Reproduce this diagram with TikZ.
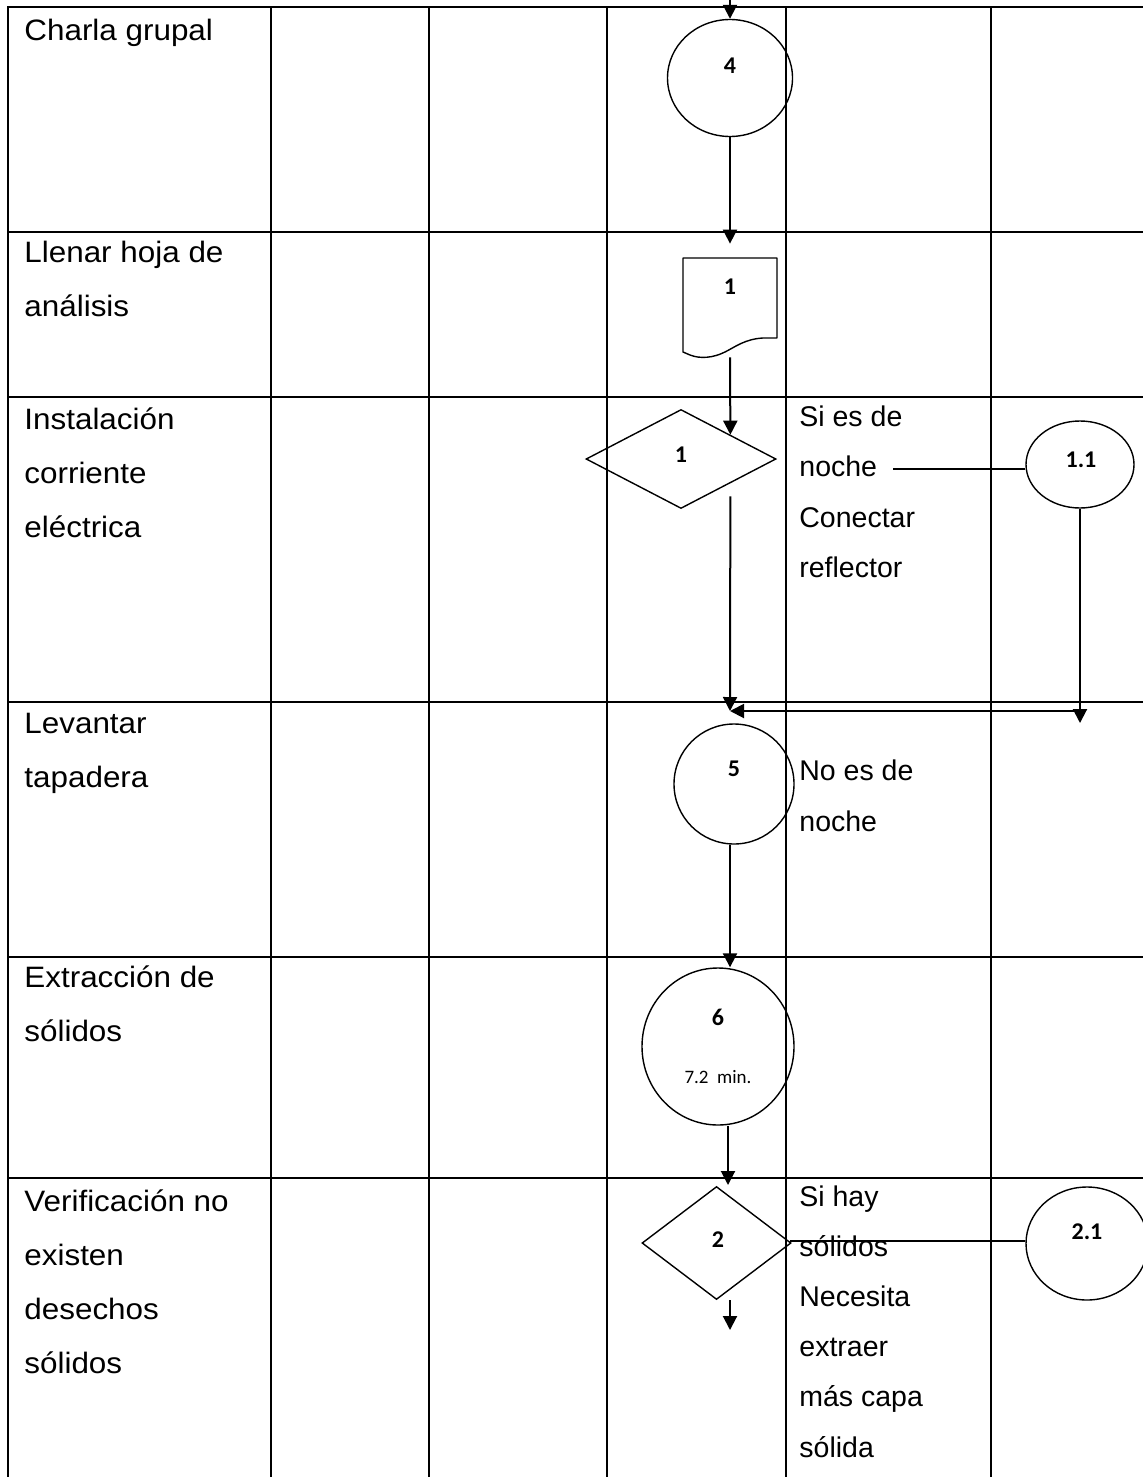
\documentclass[tikz,border=0pt]{standalone}
\usepackage{fontspec}
\setmainfont{Liberation Sans}
\newfontfamily\lanefont[FakeStretch=1.065]{Liberation Sans}
\newfontfamily\numfont{Carlito}
\usetikzlibrary{shapes.geometric,arrows.meta,calc}

\begin{document}
\begin{tikzpicture}[x=0.5pt,y=-0.5pt,
  grid/.style={line width=1pt, line cap=rect},
  outline/.style={draw, line width=0.7pt, inner sep=0pt},
  oval/.style={outline, ellipse},
  decision/.style={outline, diamond},
  flow/.style={line width=1pt, -{Triangle[length=7pt,width=7pt]}},
  link/.style={line width=0.9pt},
  num/.style={font=\numfont\bfseries\fontsize{12pt}{12pt}\selectfont, inner sep=0pt},
  small/.style={font=\numfont\fontsize{9.5pt}{9.5pt}\selectfont, inner sep=0pt},
  lane/.style={font=\lanefont\fontsize{14.75pt}{17pt}\selectfont, anchor=base west, inner sep=0pt},
  note/.style={font=\fontsize{14.25pt}{17pt}\selectfont, anchor=base west, inner sep=0pt},
]
\useasboundingbox (0,0) rectangle (1142,1477);

% table rules
\foreach \y in {7,232,397,702,957,1178}
  \draw[grid] (8,\y) -- (1150,\y);
\foreach \x in {8,271,429,607,786,991}
  \draw[grid] (\x,7) -- (\x,1490);

% activity names (first column)
\node[lane] (a1) at (24,41) {Charla grupal};
\foreach \t [count=\i from 0] in {Llenar hoja de, análisis}
  \node[lane] (a2-\i) at (24,262+54*\i) {\t};
\foreach \t [count=\i from 0] in {Instalación, corriente, eléctrica}
  \node[lane] (a3-\i) at (24,429+54*\i) {\t};
\foreach \t [count=\i from 0] in {Levantar, tapadera}
  \node[lane] (a4-\i) at (24,733+54*\i) {\t};
\foreach \t [count=\i from 0] in {Extracción de, sólidos}
  \node[lane] (a5-\i) at (24,987+54*\i) {\t};
\foreach \t [count=\i from 0] in {Verificación no, existen, desechos, sólidos}
  \node[lane] (a6-\i) at (24,1211+54*\i) {\t};

% notes in the fifth column
\foreach \t [count=\i from 0] in {Si es de, noche, Conectar, reflector}
  \node[note] (n1-\i) at (799,426+50.5*\i) {\t};
\foreach \t [count=\i from 0] in {No es de, noche}
  \node[note] (n2-\i) at (799,780+51*\i) {\t};
\foreach \t [count=\i from 0] in {Si hay, sólidos, Necesita, extraer, más capa, sólida}
  \node[note] (n3-\i) at (799,1206+50.2*\i) {\t};

% flow symbols
\node[oval, minimum width=62.5pt, minimum height=58.5pt] (c4) at (730,78) {};
\node[num] (t4) at (730,66) {4};

\node[inner sep=0pt, minimum width=47pt, minimum height=49.5pt] (doc) at (730,307.5) {};
\draw[line width=0.7pt, line join=round]
  (683,352) -- (683,258) -- (777,258) -- (777,338) -- (763,338)
  .. controls (745,339) and (735,347) .. (725,352)
  .. controls (713,358) and (700,359) .. (690,355) -- cycle;
\node[num] (tdoc) at (730,287) {1};

\node[decision, minimum width=95pt, minimum height=49.5pt] (d1) at (681,459) {};
\node[num] (td1) at (681,455) {1};

\node[oval, minimum width=54pt, minimum height=43.5pt] (c11) at (1080,464.5) {};
\node[num] (t11) at (1081,460) {1.1};

\node[oval, minimum width=60pt, minimum height=60pt] (c5) at (734,784) {};
\node[num] (t5) at (734,769) {5};

\node[oval, minimum width=76pt, minimum height=78.5pt] (c6) at (718,1046.5) {};
\node[num] (t6) at (718,1017) {6};
\node[small] (t6b) at (718,1077) {7.2\ \ min.};

\node[decision, minimum width=74.5pt, minimum height=56.5pt] (d2) at (716.5,1243) {};
\node[num] (td2) at (718,1240) {2};

\node[oval, minimum width=61pt, minimum height=56.5pt] (c21) at (1087,1243.5) {};
\node[num] (t21) at (1087,1232) {2.1};

% connectors
\coordinate (top) at (730,0);
\draw[flow] (top) -- (c4.north);
\draw[flow, shorten >=7pt] (c4.south) -- (doc.north);
\draw[flow] (doc.south) -- ($(d1.north)!0.516!(d1.east)$);

\coordinate (m) at (730,711);
\draw[flow, shorten <=6.5pt] ($(d1.south)!0.516!(d1.east)$) -- (m);

\coordinate (n1) at (893,469);
\draw[link] (n1) -- (n1 -| c11.west);

\coordinate (rt) at (1081,723);
\draw[flow] (c11.south) -- (c11.south |- rt);
\draw[flow] (c11.south |- m) -- (m);

\draw[flow] ([xshift=-2pt]c5.south) -- ([xshift=-2pt]c5.south |- c6.north);

\coordinate (d2in) at (728,1185);
\draw[flow] (c6.south -| d2in) -- (d2in);

\coordinate (out) at (730,1330);
\draw[flow] (d2.south -| out) -- (out);

\coordinate (h2) at (790,1241);
\draw[link] (h2) -- (h2 -| c21.west);
\end{tikzpicture}
\end{document}
